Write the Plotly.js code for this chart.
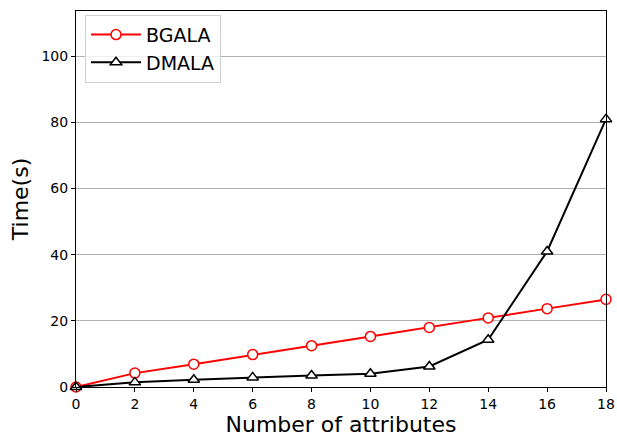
<!DOCTYPE html>
<html>
<head>
<meta charset="utf-8">
<script src="https://cdn.plot.ly/plotly-3.0.1.min.js"></script>
<style>
  html, body { margin: 0; padding: 0; background: #fff; }
  #chart { width: 617px; height: 439px; }
</style>
</head>
<body>
<div id="chart"></div>
<script>
// Number of attributes on the x axis
const attributes = [0, 2, 4, 6, 8, 10, 12, 14, 16, 18];
// Running time (seconds) for each method
const bgalaTime = [0, 4.2, 6.9, 9.8, 12.5, 15.3, 18.0, 20.9, 23.7, 26.5];
const dmalaTime = [0, 1.4, 2.2, 2.9, 3.5, 4.0, 6.2, 14.3, 41.0, 81.0];
const xTicks = [0, 2, 4, 6, 8, 10, 12, 14, 16, 18];
const yTicks = [0, 20, 40, 60, 80, 100];

const font = "DejaVu Sans, Liberation Sans, sans-serif";

const traces = [
  {
    x: attributes, y: bgalaTime, name: "BGALA",
    mode: "lines+markers",
    line: { color: "#ff0000", width: 2 },
    marker: { symbol: "circle", size: 10, color: "#ffffff", line: { color: "#ff0000", width: 1.5 } },
    cliponaxis: false
  },
  {
    x: attributes, y: dmalaTime, name: "DMALA",
    mode: "lines+markers",
    line: { color: "#000000", width: 2 },
    marker: { symbol: "triangle-up", size: 10, color: "#ffffff", line: { color: "#000000", width: 1.5 } },
    cliponaxis: false
  }
];

const layout = {
  width: 617, height: 439,
  margin: { l: 76, r: 11, t: 11, b: 52, pad: 0 },
  paper_bgcolor: "#ffffff",
  plot_bgcolor: "#ffffff",
  font: { family: font, color: "#000000", size: 14 },
  showlegend: true,
  legend: {
    x: 0.017, y: 0.99, xanchor: "left", yanchor: "top",
    font: { family: font, size: 19, color: "#000000" },
    bgcolor: "rgba(255,255,255,0.8)",
    bordercolor: "#d0d0d0", borderwidth: 1,
    itemwidth: 50,
    tracegroupgap: 0
  },
  xaxis: {
    range: [0, 18],
    tickmode: "array", tickvals: xTicks,
    ticks: "outside", ticklen: 4, tickwidth: 1, tickcolor: "#000",
    showline: true, mirror: true, linecolor: "#000", linewidth: 1,
    showgrid: false, zeroline: false,
    tickfont: { family: font, size: 14 },
    title: { text: "Number of attributes", font: { family: font, size: 22 }, standoff: 5 }
  },
  yaxis: {
    range: [0, 113.7],
    tickmode: "array", tickvals: yTicks,
    ticks: "outside", ticklen: 4, tickwidth: 1, tickcolor: "#000",
    showline: true, mirror: true, linecolor: "#000", linewidth: 1,
    showgrid: true, gridcolor: "#b0b0b0", gridwidth: 1,
    zeroline: false,
    tickfont: { family: font, size: 14 },
    title: { text: "Time(s)", font: { family: font, size: 22 }, standoff: 6 }
  }
};

Plotly.newPlot("chart", traces, layout, { displayModeBar: false, staticPlot: true });
</script>
</body>
</html>
